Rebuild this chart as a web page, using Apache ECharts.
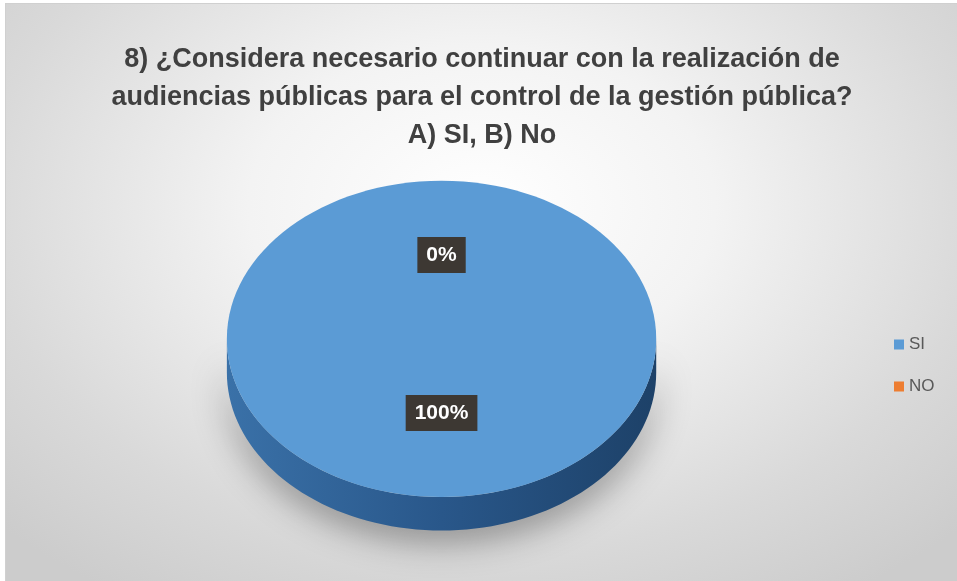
<!DOCTYPE html>
<html>
<head>
<meta charset="utf-8">
<script src="https://cdn.jsdelivr.net/npm/echarts@6/dist/echarts.min.js"></script>
<style>
  html, body { margin: 0; padding: 0; background: #ffffff; }
  #chart {
    position: absolute; left: 5px; top: 3px; width: 952px; height: 578px;
    border-left: 1px solid #d0d0d0; border-top: 1px solid #d0d0d0;
    background: radial-gradient(ellipse 70% 80% at 50% 35%, #ffffff 0%, #f3f3f3 35%, #d9d9d9 75%, #cccccc 100%);
  }
</style>
</head>
<body>
<div id="chart"></div>
<script>
const titleText = '8) ¿Considera necesario continuar con la realización de\naudiencias públicas para el control de la gestión pública?\nA) SI, B) No';
const categories = ['SI', 'NO'];
const values = [100, 0];

const sliceColors = ['#5b9bd5', '#ed7d31'];
const total = values.reduce((a, b) => a + b, 0);

const chart = echarts.init(document.getElementById('chart'));

function ellPt(cx, cy, rx, ry, a, dy) {
  return [cx + rx * Math.sin(a), cy - ry * Math.cos(a) + (dy || 0)];
}

function makeRender(idx) {
  return function (params, api) {
    const W = api.getWidth(), H = api.getHeight();
    const cx = W * 0.4575, cy = H * 0.5795;
    const rx = W * 0.2255, ry = H * 0.2735, depth = H * 0.058;
    const v = api.value(0);
    let before = 0;
    for (let k = 0; k < idx; k++) before += values[k];
    const a0 = before / total * Math.PI * 2;
    const a1 = a0 + v / total * Math.PI * 2;
    const children = [];
    const base = sliceColors[idx];
    const sideGrad = new echarts.graphic.LinearGradient(0, 0, 1, 0, [
      { offset: 0, color: idx === 0 ? '#3a71a8' : '#b05a20' },
      { offset: 0.5, color: idx === 0 ? '#29578a' : '#9a4f1c' },
      { offset: 1, color: idx === 0 ? '#1d4168' : '#7a3e16' }
    ]);
    // side (front visible part)
    const s = Math.max(a0, Math.PI / 2), e = Math.min(a1, Math.PI * 1.5);
    if (e > s) {
      const pts = [];
      const n = 80;
      for (let i = 0; i <= n; i++) pts.push(ellPt(cx, cy, rx, ry, s + (e - s) * i / n, 0));
      for (let i = n; i >= 0; i--) pts.push(ellPt(cx, cy, rx, ry, s + (e - s) * i / n, depth));
      children.push({
        type: 'polygon', shape: { points: pts },
        style: { fill: sideGrad, shadowBlur: 34, shadowColor: 'rgba(0,0,0,0.4)', shadowOffsetY: 10 }
      });
    }
    // top face
    if (v > 0) {
      if (v >= total) {
        children.push({ type: 'ellipse', shape: { cx: cx, cy: cy, rx: rx, ry: ry }, style: { fill: base } });
      } else {
        const pts = [[cx, cy]];
        const n = 120;
        for (let i = 0; i <= n; i++) pts.push(ellPt(cx, cy, rx, ry, a0 + (a1 - a0) * i / n, 0));
        children.push({ type: 'polygon', shape: { points: pts }, style: { fill: base } });
      }
    }
    // label
    const mid = (a0 + a1) / 2;
    const lp = ellPt(cx, cy, rx * 0.5, ry * 0.5, mid, -5);
    const pct = Math.round(v / total * 100) + '%';
    children.push({
      type: 'text', z2: 100,
      style: {
        text: pct, x: lp[0], y: lp[1], align: 'center', verticalAlign: 'middle',
        fill: '#ffffff', font: 'bold 21px "Liberation Sans", Arial, sans-serif',
        backgroundColor: '#3d3833', padding: [8, 9, 7, 9],
        boxShadowBlur: 6, boxShadowColor: 'rgba(0,0,0,0.45)', boxShadowOffsetX: 2, boxShadowOffsetY: 2
      }
    });
    return { type: 'group', children: children };
  };
}

const series = categories.map((name, i) => ({
  type: 'custom',
  name: name,
  coordinateSystem: 'none',
  itemStyle: { color: sliceColors[i] },
  data: [[values[i]]],
  renderItem: makeRender(i),
  z: 2 + i
}));

chart.setOption({
  backgroundColor: 'transparent',
  animation: false,
  title: {
    text: titleText,
    left: 'center',
    top: 32,
    textStyle: {
      fontFamily: '"Liberation Sans Narrow", "Liberation Sans", Arial, sans-serif',
      fontWeight: 'bold',
      fontSize: 27,
      lineHeight: 38,
      color: '#404040'
    }
  },
  legend: {
    data: categories,
    orient: 'vertical',
    left: 883,
    top: 327,
    itemWidth: 10,
    itemHeight: 10,
    itemGap: 25,
    icon: 'rect',
    textStyle: { fontSize: 17, color: '#595959', fontFamily: '"Liberation Sans", Arial, sans-serif' }
  },
  series: series
});
</script>
</body>
</html>
